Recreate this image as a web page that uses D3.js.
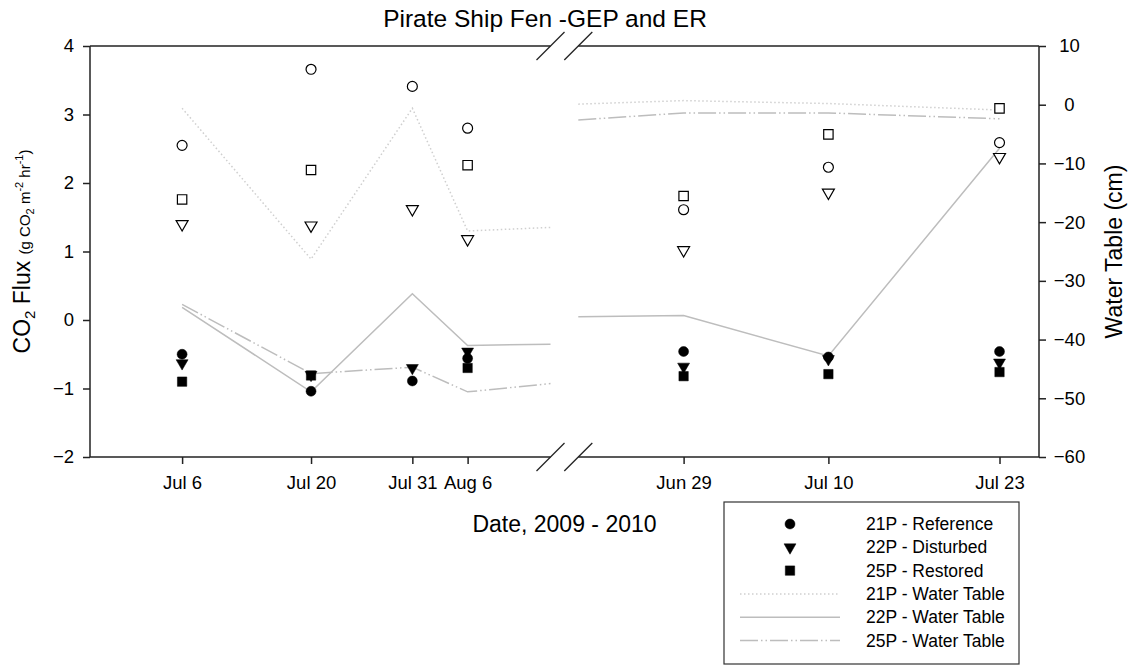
<!DOCTYPE html>
<html>
<head>
<meta charset="utf-8">
<script src="https://cdn.jsdelivr.net/npm/d3@7"></script>
<style>
  html, body { margin: 0; padding: 0; background: #fff; }
  svg { display: block; font-family: "Liberation Sans", Arial, sans-serif; }
</style>
</head>
<body>
<svg id="chart" width="1133" height="667"></svg>
<script>
// ---------------- data ----------------
const fluxDates   = ["2009-07-06","2009-07-20","2009-07-31","2009-08-06","2010-06-29","2010-07-10","2010-07-23"];
const tickLabels  = ["Jul 6","Jul 20","Jul 31","Aug 6","Jun 29","Jul 10","Jul 23"];
// open symbols (GEP)
const gep21 = [2.55, 3.66, 3.41, 2.80, 1.61, 2.23, 2.59];
const gep22 = [1.40, 1.38, 1.62, 1.18, 1.02, 1.86, 2.38];
const gep25 = [1.76, 2.19, null, 2.26, 1.81, 2.71, 3.09];
// filled symbols (ER)
const er21 = [-0.50, -1.04, -0.89, -0.56, -0.46, -0.54, -0.46];
const er22 = [-0.63, -0.80, -0.70, -0.46, -0.68, -0.57, -0.62];
const er25 = [-0.90, -0.81, null, -0.70, -0.82, -0.79, -0.76];
// water table (cm)
const wtDates2009 = ["2009-07-06","2009-07-20","2009-07-31","2009-08-06","2009-08-15"];
const wt21_2009 = [-0.6, -26.3, -0.6, -21.5, -20.9];
const wt22_2009 = [-34.5, -48.9, -32.2, -41.0, -40.8];
const wt25_2009 = [-34.0, -45.8, -44.7, -48.9, -47.5];
const wtDates2010 = ["2010-06-21","2010-06-29","2010-07-10","2010-07-23"];
const wt21_2010 = [0.1, 0.7, 0.2, -0.9];
const wt22_2010 = [-36.1, -35.9, -42.8, -7.4];
const wt25_2010 = [-2.6, -1.4, -1.4, -2.4];
// axis domain with break (2009 segment, 2010 segment)
const xDomain = ["2009-06-26","2009-08-15","2010-06-21","2010-07-26"];
const yTicks  = [-2,-1,0,1,2,3,4];
const y2Ticks = [-60,-50,-40,-30,-20,-10,0,10];
const legendLabels = ["21P - Reference","22P - Disturbed","25P - Restored",
                      "21P - Water Table","22P - Water Table","25P - Water Table"];

// ---------------- layout ----------------
const L = 90, R = 1039, T = 46, B = 457;
const parse = d3.utcParse("%Y-%m-%d");
const svg = d3.select("#chart");
const ink = "#222";

const x = d3.scaleUtc().domain(xDomain.map(parse)).range([L, 550.5, 578.3, R]);
const y = d3.scaleLinear().domain([-2, 4]).range([B, T]);
const y2 = d3.scaleLinear().domain([-60, 10]).range([B, T]);
const breakL = x(parse(xDomain[1])), breakR = x(parse(xDomain[2]));

// ---------------- water table lines ----------------
const wtStyles = [
  {vals: [wt21_2009, wt21_2010], color: "#cfcfcf", dash: "1.5,2.5"},
  {vals: [wt22_2009, wt22_2010], color: "#bdbdbd", dash: null},
  {vals: [wt25_2009, wt25_2010], color: "#bdbdbd", dash: "18,3,1.5,3,1.5,3"}
];
const line = d3.line().x(d => x(d[0])).y(d => y2(d[1]));
wtStyles.forEach(s => {
  [[wtDates2009, s.vals[0]], [wtDates2010, s.vals[1]]].forEach(([ds, vs]) => {
    svg.append("path")
      .attr("d", line(ds.map((d, i) => [parse(d), vs[i]])))
      .attr("fill", "none")
      .attr("stroke", s.color)
      .attr("stroke-width", 1.5)
      .attr("stroke-dasharray", s.dash);
  });
});

// ---------------- symbols ----------------
const sym = {
  circle: d3.symbol().type(d3.symbolCircle).size(78),
  tri: d3.symbol().type(d3.symbolTriangle).size(62),
  square: d3.symbol().type(d3.symbolSquare).size(88)
};
function drawSeries(vals, shape, filled) {
  vals.forEach((v, i) => {
    if (v == null) return;
    const px = x(parse(fluxDates[i])), py = y(v);
    svg.append("path")
      .attr("d", sym[shape]())
      .attr("transform", `translate(${px},${py})` + (shape === "tri" ? " rotate(180)" : ""))
      .attr("fill", filled ? "#000" : "#fff")
      .attr("stroke", "#000")
      .attr("stroke-width", filled ? 0.5 : 1.2);
  });
}
drawSeries(gep21, "circle", false);
drawSeries(gep22, "tri", false);
drawSeries(gep25, "square", false);
drawSeries(er21, "circle", true);
drawSeries(er22, "tri", true);
drawSeries(er25, "square", true);

// ---------------- frame & axes ----------------
const frame = svg.append("g").attr("stroke", ink).attr("stroke-width", 1.5).attr("fill", "none");
[[L, T, breakL, T], [breakR, T, R, T], [L, B, breakL, B], [breakR, B, R, B], [L, T, L, B], [R, T, R, B]]
  .forEach(s => frame.append("line").attr("x1", s[0]).attr("y1", s[1]).attr("x2", s[2]).attr("y2", s[3]));
// break marks
[T, B].forEach(yy => {
  [breakL, breakR].forEach(cx => {
    frame.append("line").attr("x1", cx - 14).attr("y1", yy + 14).attr("x2", cx + 14).attr("y2", yy - 14)
      .attr("stroke-width", 1.3);
  });
});

const axisStyle = g => {
  g.select(".domain").remove();
  g.selectAll(".tick line").attr("stroke", ink).attr("stroke-width", 1.5);
  g.selectAll(".tick text").attr("fill", "#000").attr("font-size", "18.5px")
    .attr("font-family", "'Liberation Sans', Arial, sans-serif");
};
svg.append("g").attr("transform", `translate(${L},0)`)
  .call(d3.axisLeft(y).tickValues(yTicks).tickSize(7).tickPadding(9).tickFormat(d3.format("d")))
  .call(axisStyle);
svg.append("g").attr("transform", `translate(${R},0)`)
  .call(d3.axisRight(y2).tickValues(y2Ticks).tickSize(7).tickPadding(9).tickFormat(d3.format("d")))
  .call(axisStyle)
  .call(g => g.selectAll(".tick text").attr("text-anchor", "middle").attr("x", 30.5));
svg.append("g").attr("transform", `translate(0,${B})`)
  .call(d3.axisBottom(x).tickValues(fluxDates.map(parse)).tickSize(7).tickPadding(12)
        .tickFormat((d, i) => tickLabels[i]))
  .call(axisStyle);

// ---------------- titles ----------------
svg.append("text").attr("x", 545).attr("y", 27).attr("text-anchor", "middle")
  .attr("font-size", "24.5px").text("Pirate Ship Fen -GEP and ER");
svg.append("text").attr("x", (L + R) / 2).attr("y", 532).attr("text-anchor", "middle")
  .attr("font-size", "23px").text("Date, 2009 - 2010");
svg.append("text").attr("transform", `translate(1122,${(T + B) / 2}) rotate(-90)`)
  .attr("text-anchor", "middle").attr("font-size", "23px").text("Water Table (cm)");

const yl = svg.append("text").attr("transform", `translate(30,${(T + B) / 2}) rotate(-90)`)
  .attr("text-anchor", "middle").attr("font-size", "23px");
yl.append("tspan").text("CO");
yl.append("tspan").attr("font-size", "15px").attr("dy", 5).text("2");
yl.append("tspan").attr("dy", -5).text(" Flux ");
const small = "15px";
yl.append("tspan").attr("font-size", small).text("(g CO");
yl.append("tspan").attr("font-size", "11px").attr("dy", 4).text("2");
yl.append("tspan").attr("font-size", small).attr("dy", -4).text(" m");
yl.append("tspan").attr("font-size", "11px").attr("dy", -7).text("-2");
yl.append("tspan").attr("font-size", small).attr("dy", 7).text(" hr");
yl.append("tspan").attr("font-size", "11px").attr("dy", -7).text("-1");
yl.append("tspan").attr("font-size", small).attr("dy", 7).text(")");

// ---------------- legend ----------------
const lg = svg.append("g");
lg.append("rect").attr("x", 724).attr("y", 502).attr("width", 295).attr("height", 162)
  .attr("fill", "#fff").attr("stroke", "#333").attr("stroke-width", 1.2);
const rowY = i => 524 + i * 23.3;
const legendSyms = [["circle"], ["tri"], ["square"]];
legendLabels.forEach((lab, i) => {
  const cy = rowY(i);
  if (i < 3) {
    const shape = legendSyms[i][0];
    lg.append("path").attr("d", sym[shape]())
      .attr("transform", `translate(790,${cy})` + (shape === "tri" ? " rotate(180)" : ""))
      .attr("fill", "#000").attr("stroke", "#000").attr("stroke-width", 0.5);
  } else {
    const s = wtStyles[i - 3];
    lg.append("line").attr("x1", 740).attr("x2", 840).attr("y1", cy).attr("y2", cy)
      .attr("stroke", s.color).attr("stroke-width", 1.5).attr("stroke-dasharray", s.dash);
  }
  lg.append("text").attr("x", 866).attr("y", cy).attr("dy", "0.35em")
    .attr("font-size", "17.5px").text(lab);
});
</script>
</body>
</html>
